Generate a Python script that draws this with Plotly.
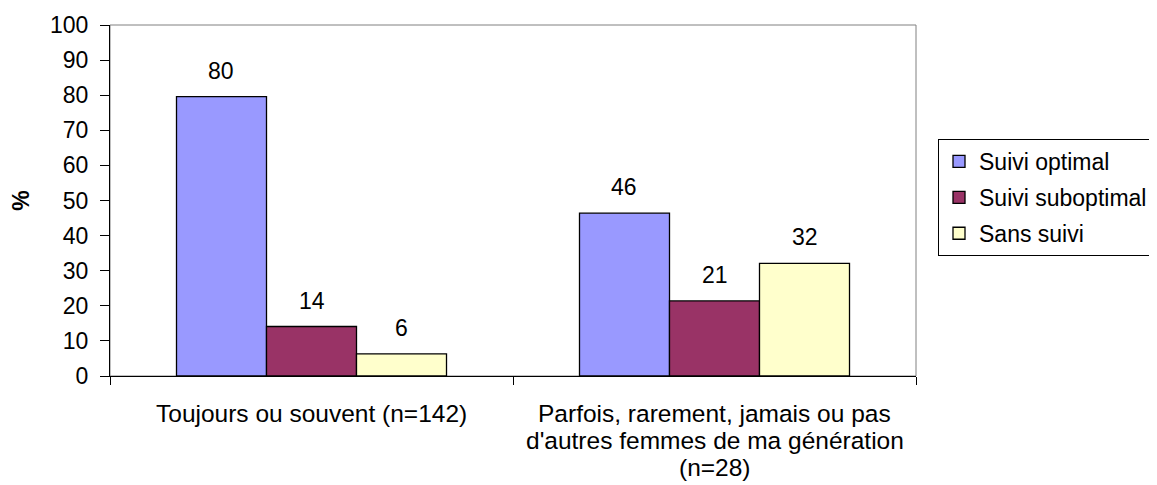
import plotly.graph_objects as go

categories = ["Toujours ou souvent (n=142)",
              "Parfois, rarement, jamais ou pas<br>d'autres femmes de ma génération<br>(n=28)"]
series_names = ["Suivi optimal", "Suivi suboptimal", "Sans suivi"]
suivi_optimal = [79.6, 46.4]
suivi_suboptimal = [14.1, 21.4]
sans_suivi = [6.3, 32.1]
series_values = [suivi_optimal, suivi_suboptimal, sans_suivi]
colors = ["#9999FF", "#993366", "#FFFFCC"]
y_ticks = [0, 10, 20, 30, 40, 50, 60, 70, 80, 90, 100]

FONT = "Liberation Sans, Arial, sans-serif"
FS = 23
FS_TXT = 24.5

W, H = 1149, 477

fig = go.Figure()
for i, (name, vals) in enumerate(zip(series_names, series_values)):
    fig.add_trace(go.Bar(
        x=categories, y=vals, name=name,
        marker=dict(color=colors[i], line=dict(color="black", width=1.3)),
        legendgroup=name, hoverinfo="skip",
    ))

# value labels above bars
bar_px = 806 / 2 * 0.67 / 3
for i, vals in enumerate(series_values):
    for j, v in enumerate(vals):
        fig.add_annotation(x=categories[j], y=v, text=str(round(v)),
                           showarrow=False, xshift=(i - 1) * bar_px, yshift=26,
                           font=dict(family=FONT, size=FS, color="black"))

# category labels (line by line for spacing)
for j, cat in enumerate(categories):
    for k, line in enumerate(cat.split("<br>")):
        fig.add_annotation(x=cat, y=0, yref="y", text=line, showarrow=False,
                           yshift=-37 - 27 * k,
                           font=dict(family=FONT, size=FS_TXT, color="black"))

# plot area border (grey)
fig.add_shape(type="rect", xref="paper", yref="paper", x0=0, y0=0, x1=1, y1=1,
              line=dict(color="#808080", width=1), layer="below")

fig.update_layout(
    width=W, height=H,
    margin=dict(l=102, r=241, t=17, b=109, autoexpand=False),
    paper_bgcolor="white", plot_bgcolor="white",
    barmode="group", bargap=0.33, bargroupgap=0,
    font=dict(family=FONT, size=FS, color="black"),
    showlegend=True,
    legend=dict(xref="container", yref="container",
                x=930 / W, y=1 - 131 / H, xanchor="left", yanchor="top",
                bordercolor="black", borderwidth=1, bgcolor="white",
                tracegroupgap=3, itemwidth=30,
                font=dict(family=FONT, size=FS)),
    xaxis=dict(showticklabels=False, tickson="boundaries", ticks="outside",
               ticklen=8, tickcolor="black", showline=True, linecolor="black",
               linewidth=1, showgrid=False, zeroline=False, automargin=False),
    yaxis=dict(range=[0, 100], tickvals=y_ticks, ticks="outside", ticklen=9,
               tickcolor="black", showline=True, linecolor="black", linewidth=1,
               showgrid=False, zeroline=False, automargin=False,
               ticklabelstandoff=7,
               title=dict(text="<b>%</b>", standoff=17, font=dict(size=FS)),
               tickfont=dict(size=FS)),
)

fig.write_html("out.html")
